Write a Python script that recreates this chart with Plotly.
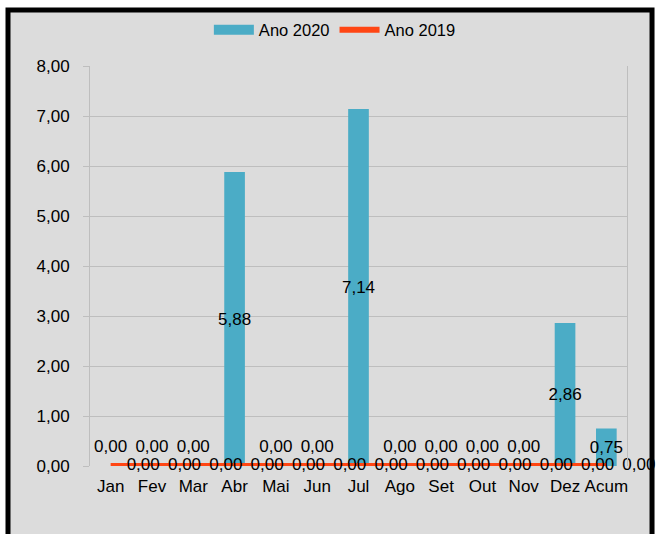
import plotly.graph_objects as go

meses = ["Jan", "Fev", "Mar", "Abr", "Mai", "Jun", "Jul", "Ago", "Set", "Out", "Nov", "Dez", "Acum"]
ano_2020 = [0, 0, 0, 5.88, 0, 0, 7.14, 0, 0, 0, 0, 2.86, 0.75]
ano_2019 = [0, 0, 0, 0, 0, 0, 0, 0, 0, 0, 0, 0, 0]

FONT = "Liberation Sans, Arial, sans-serif"
AZUL = "#4BACC6"
LARANJA = "#FF4614"

fig = go.Figure()

# barras 2020 (rótulos dentro das barras com valor)
fig.add_trace(go.Bar(x=meses,
                     y=ano_2020,
                     name="Ano 2020",
                     showlegend=False,
                     marker=dict(color=AZUL, line=dict(width=0)),
                     width=0.5,
                     text=[v if v > 0 else "" for v in ano_2020],
                     texttemplate="%{y:.2f}",
                     textposition="inside",
                     insidetextanchor="middle",
                     textangle=0,
                     constraintext="none",
                     cliponaxis=False,
                     textfont=dict(color="black", size=17, family=FONT)))

# rótulos das barras zeradas
zeros_x = [m for m, v in zip(meses, ano_2020) if v == 0]
zeros_y = [v for v in ano_2020 if v == 0]
fig.add_trace(go.Scatter(x=zeros_x,
                         y=zeros_y,
                         mode="markers+text",
                         showlegend=False,
                         marker=dict(size=14, color="rgba(0,0,0,0)"),
                         text=zeros_y,
                         texttemplate="%{y:.2f}",
                         textposition="top center",
                         cliponaxis=False,
                         hoverinfo="skip",
                         textfont=dict(color="black", size=17, family=FONT)))

# entrada da legenda para 2020
fig.add_trace(go.Scatter(x=[None], y=[None], mode="lines", name="Ano 2020",
                         line=dict(color=AZUL, width=10)))

fig.add_trace(go.Scatter(x=meses,
                         y=ano_2019,
                         name="Ano 2019",
                         mode="lines+markers+text",
                         line=dict(color=LARANJA, width=6),
                         marker=dict(size=24, color="rgba(0,0,0,0)"),
                         text=ano_2019,
                         texttemplate="%{y:.2f}",
                         textposition="middle right",
                         cliponaxis=False,
                         textfont=dict(color="black", size=17, family=FONT)))

fig.update_layout(width=656,
                  height=534,
                  separators=", ",
                  font=dict(family=FONT, size=17, color="black"),
                  paper_bgcolor="white",
                  plot_bgcolor="#DCDCDC",
                  margin=dict(l=90, r=29, t=66, b=68, autoexpand=False),
                  uniformtext=dict(minsize=17, mode="show"),
                  showlegend=True,
                  legend=dict(orientation="h",
                              x=0.456,
                              xanchor="center",
                              y=1.09,
                              yanchor="middle",
                              bgcolor="rgba(0,0,0,0)",
                              itemwidth=40,
                              font=dict(size=16.5)),
                  xaxis=dict(range=[-0.5, len(meses) - 0.5],
                             showgrid=False,
                             showline=False,
                             zeroline=False,
                             automargin=False,
                             tickangle=0,
                             ticks="outside",
                             ticklen=5,
                             tickcolor="rgba(0,0,0,0)"),
                  yaxis=dict(range=[0, 8],
                             dtick=1,
                             tickformat=".2f",
                             automargin=False,
                             showgrid=True,
                             gridcolor="#BEBEBE",
                             gridwidth=1,
                             zeroline=False,
                             showline=True,
                             linecolor="#BEBEBE",
                             linewidth=1,
                             mirror=True,
                             ticks="outside",
                             ticklen=6,
                             tickcolor="#BEBEBE",
                             ticklabelstandoff=10))

# fundo cinza e moldura preta do gráfico
fig.add_shape(type="rect", xref="paper", yref="paper",
              x0=-0.1527, x1=1.0466, y0=-0.25, y1=1.14,
              line=dict(color="black", width=5),
              fillcolor="#DCDCDC", layer="below")

fig.write_html("out.html",
               config={"displayModeBar": False},
               post_script="document.body.style.margin='0';document.body.style.overflow='hidden';")
